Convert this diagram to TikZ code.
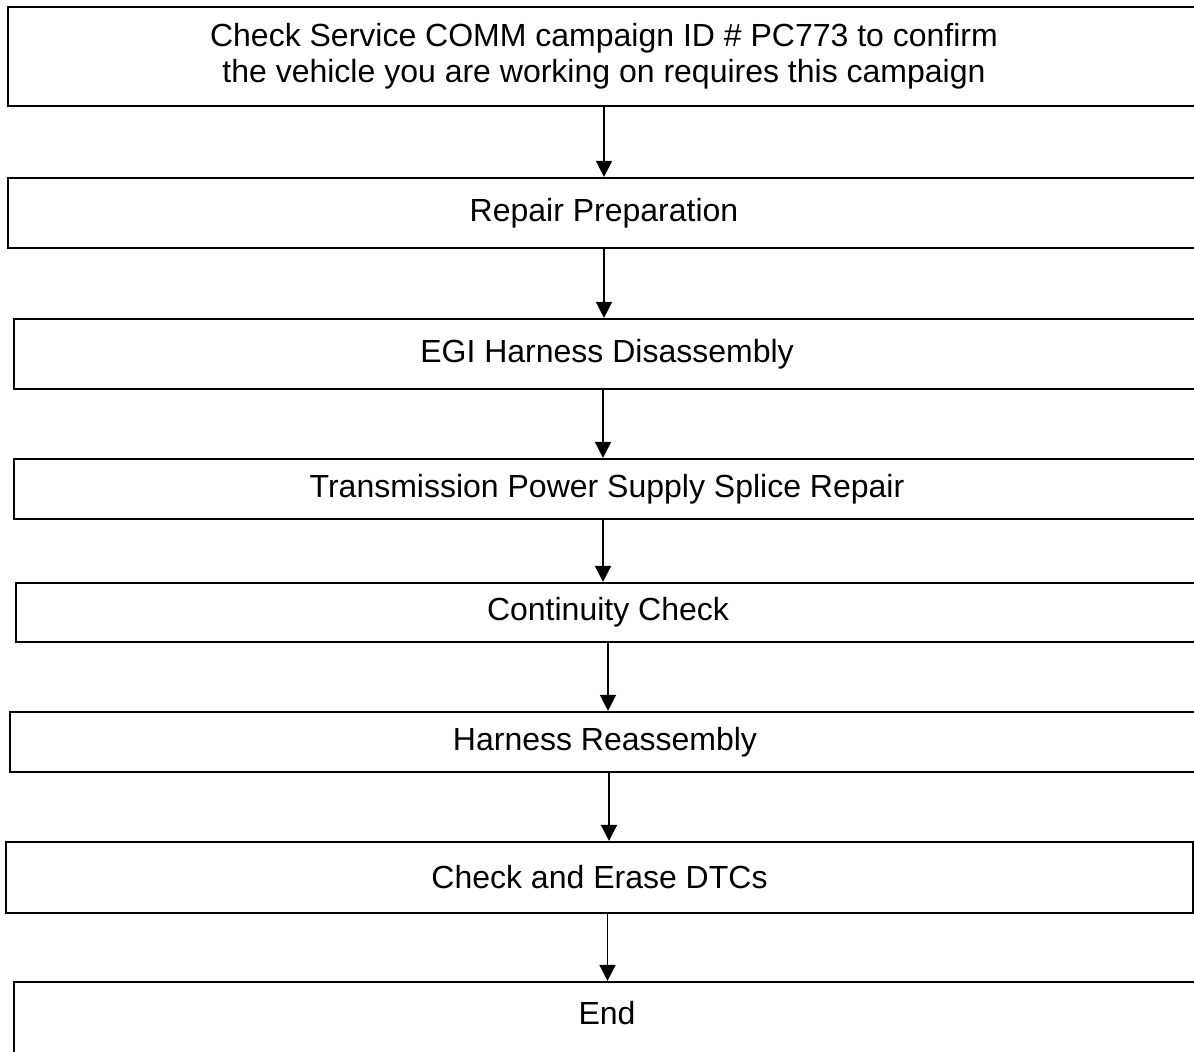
\documentclass[tikz,border=0pt]{standalone}
\usepackage{fontspec}
\setmainfont{Liberation Sans}
\usepackage{tikz}
\usetikzlibrary{arrows.meta,positioning}

\begin{document}
\begin{tikzpicture}[
    x=0.5pt, y=-0.5pt,
    stage/.style={rectangle,draw,line width=1.1pt,inner sep=0pt,align=center,
                  font=\fontsize{16}{18}\selectfont},
    flow/.style={line width=0.8pt,-{Triangle[length=8pt,width=8pt]}}
]
    % Page frame, the boxes run past the right side
    \clip (0,0) rectangle (1194,1051);

    % Stages, top to bottom
    \node[stage,minimum width=596pt,minimum height=49.5pt] (chk) at (604,56.5)
        {Check Service COMM campaign ID \# PC773 to confirm\\the vehicle you are working on requires this campaign};
    \node[stage,minimum width=596pt,minimum height=35pt]   (prep)   at (604,213)   {Repair Preparation};
    \node[stage,minimum width=593pt,minimum height=35pt]   (dis)    at (607,354)   {EGI Harness Disassembly};
    \node[stage,minimum width=593pt,minimum height=30pt]   (splice) at (607,489)   {Transmission Power Supply Splice Repair};
    \node[stage,minimum width=592pt,minimum height=29.5pt] (cont)   at (608,612.5) {Continuity Check};
    \node[stage,minimum width=595pt,minimum height=30pt]   (reas)   at (605,742)   {Harness Reassembly};
    \node[stage,minimum width=593.5pt,minimum height=35.5pt] (dtc)  at (599.5,877.5) {Check and Erase DTCs};
    \node[stage,minimum width=593pt,minimum height=37pt,text depth=6pt] (fin) at (607,1019) {End};

    % Arrows between stages
    \draw[flow] (chk.south)    -- (chk.south |- prep.north);
    \draw[flow] (prep.south)   -- (prep.south |- dis.north);
    \draw[flow] ([xshift=-2pt]dis.south) -- ([xshift=-2pt]dis.south |- splice.north);
    \draw[flow] ([xshift=-2pt]splice.south) -- ([xshift=-2pt]splice.south |- cont.north);
    \draw[flow] (cont.south)   -- (cont.south |- reas.north);
    \draw[flow] ([xshift=2pt]reas.south) -- ([xshift=2pt]reas.south |- dtc.north);
    \draw[flow] ([xshift=4pt]dtc.south) -- ([xshift=4pt]dtc.south |- fin.north);
\end{tikzpicture}
\end{document}
